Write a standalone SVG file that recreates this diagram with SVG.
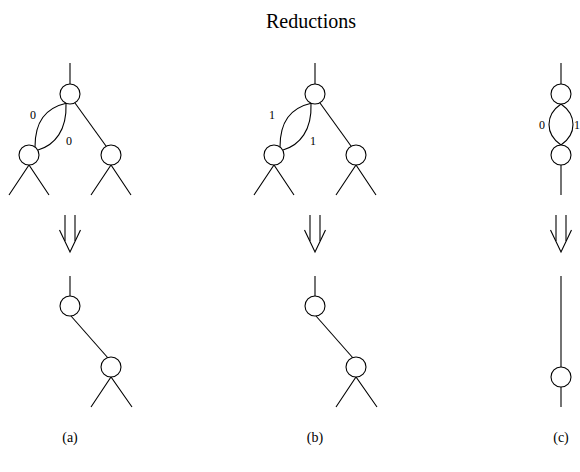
<svg xmlns="http://www.w3.org/2000/svg" width="580" height="472" viewBox="0 0 580 472">
  <style>
    .edge { fill: none; stroke: #000; stroke-width: 1.1; }
    .node { fill: #fff; stroke: #000; stroke-width: 1.1; }
    text { font-family: "Liberation Serif", "DejaVu Serif", serif; fill: #000; text-anchor: middle; }
    .lbl { font-size: 12px; }
    .cap { font-size: 14px; }
    .title { font-size: 20px; }
  </style>
  <defs>
    <!-- open double-shaft "reduces to" arrow, tip at origin -->
    <g id="reduce">
      <line class="edge" x1="-5" y1="-37" x2="-5" y2="-11"/>
      <line class="edge" x1="5" y1="-37" x2="5" y2="-11"/>
      <polyline class="edge" points="-10.5,-22 0,0 10.5,-22"/>
    </g>
  </defs>
  <rect width="580" height="472" fill="#fff"/>

  <text class="title" x="311" y="28">Reductions</text>

  <!-- connectors -->
  <g id="connectors">
    <!-- (a) before -->
    <line class="edge" x1="70" y1="63" x2="70" y2="84"/>
    <path class="edge" d="M67,103 C45,108 35,122 35,147"/>
    <path class="edge" d="M66,104 C67,130 55,145 38,150"/>
    <line class="edge" x1="75" y1="103" x2="106" y2="146"/>
    <polyline class="edge" points="9,195 29,165 49,195"/>
    <polyline class="edge" points="91,195 111,165 131,195"/>
    <!-- (a) after -->
    <line class="edge" x1="70" y1="276" x2="70" y2="296"/>
    <line class="edge" x1="71" y1="316" x2="108" y2="358"/>
    <polyline class="edge" points="91,407 111,377 132,407"/>

    <!-- (b) before -->
    <line class="edge" x1="315" y1="63" x2="315" y2="84"/>
    <path class="edge" d="M312,103 C290,108 280,122 280,147"/>
    <path class="edge" d="M311,104 C312,130 300,145 283,150"/>
    <line class="edge" x1="320" y1="103" x2="351" y2="146"/>
    <polyline class="edge" points="254,195 274,165 294,195"/>
    <polyline class="edge" points="336,195 356,165 376,195"/>
    <!-- (b) after -->
    <line class="edge" x1="315" y1="276" x2="315" y2="296"/>
    <line class="edge" x1="316" y1="316" x2="353" y2="358"/>
    <polyline class="edge" points="336,407 356,377 377,407"/>

    <!-- (c) before -->
    <line class="edge" x1="561" y1="63" x2="561" y2="84"/>
    <path class="edge" d="M561,104 C545,115 545,134 561,145"/>
    <path class="edge" d="M561,104 C577,115 577,134 561,145"/>
    <line class="edge" x1="561" y1="165" x2="561" y2="195"/>
    <!-- (c) after -->
    <line class="edge" x1="561" y1="276" x2="561" y2="367"/>
    <line class="edge" x1="561" y1="387" x2="561" y2="407"/>

    <!-- reduction arrows -->
    <use href="#reduce" x="70" y="252"/>
    <use href="#reduce" x="315" y="252"/>
    <use href="#reduce" x="561" y="252"/>
  </g>

  <!-- (a) nodes -->
  <g id="a-root"><circle class="node" cx="70" cy="94" r="10"/></g>
  <g id="a-left"><circle class="node" cx="29" cy="155" r="10"/></g>
  <g id="a-right"><circle class="node" cx="111" cy="155" r="10"/></g>
  <g id="a-top"><circle class="node" cx="70" cy="306" r="10"/></g>
  <g id="a-bottom"><circle class="node" cx="111" cy="367" r="10"/></g>

  <!-- (b) nodes -->
  <g id="b-root"><circle class="node" cx="315" cy="94" r="10"/></g>
  <g id="b-left"><circle class="node" cx="274" cy="155" r="10"/></g>
  <g id="b-right"><circle class="node" cx="356" cy="155" r="10"/></g>
  <g id="b-top"><circle class="node" cx="315" cy="306" r="10"/></g>
  <g id="b-bottom"><circle class="node" cx="356" cy="367" r="10"/></g>

  <!-- (c) nodes -->
  <g id="c-top"><circle class="node" cx="561" cy="94" r="10"/></g>
  <g id="c-bottom"><circle class="node" cx="561" cy="155" r="10"/></g>
  <g id="c-after"><circle class="node" cx="561" cy="377" r="10"/></g>

  <!-- edge labels -->
  <g id="labels">
    <text class="lbl" x="33" y="119">0</text>
    <text class="lbl" x="69" y="145">0</text>
    <text class="lbl" x="272" y="119">1</text>
    <text class="lbl" x="313" y="145">1</text>
    <text class="lbl" x="542" y="129">0</text>
    <text class="lbl" x="577" y="129">1</text>
  </g>

  <!-- panel captions -->
  <text class="cap" x="70" y="442">(a)</text>
  <text class="cap" x="315" y="442">(b)</text>
  <text class="cap" x="561" y="442">(c)</text>
</svg>
